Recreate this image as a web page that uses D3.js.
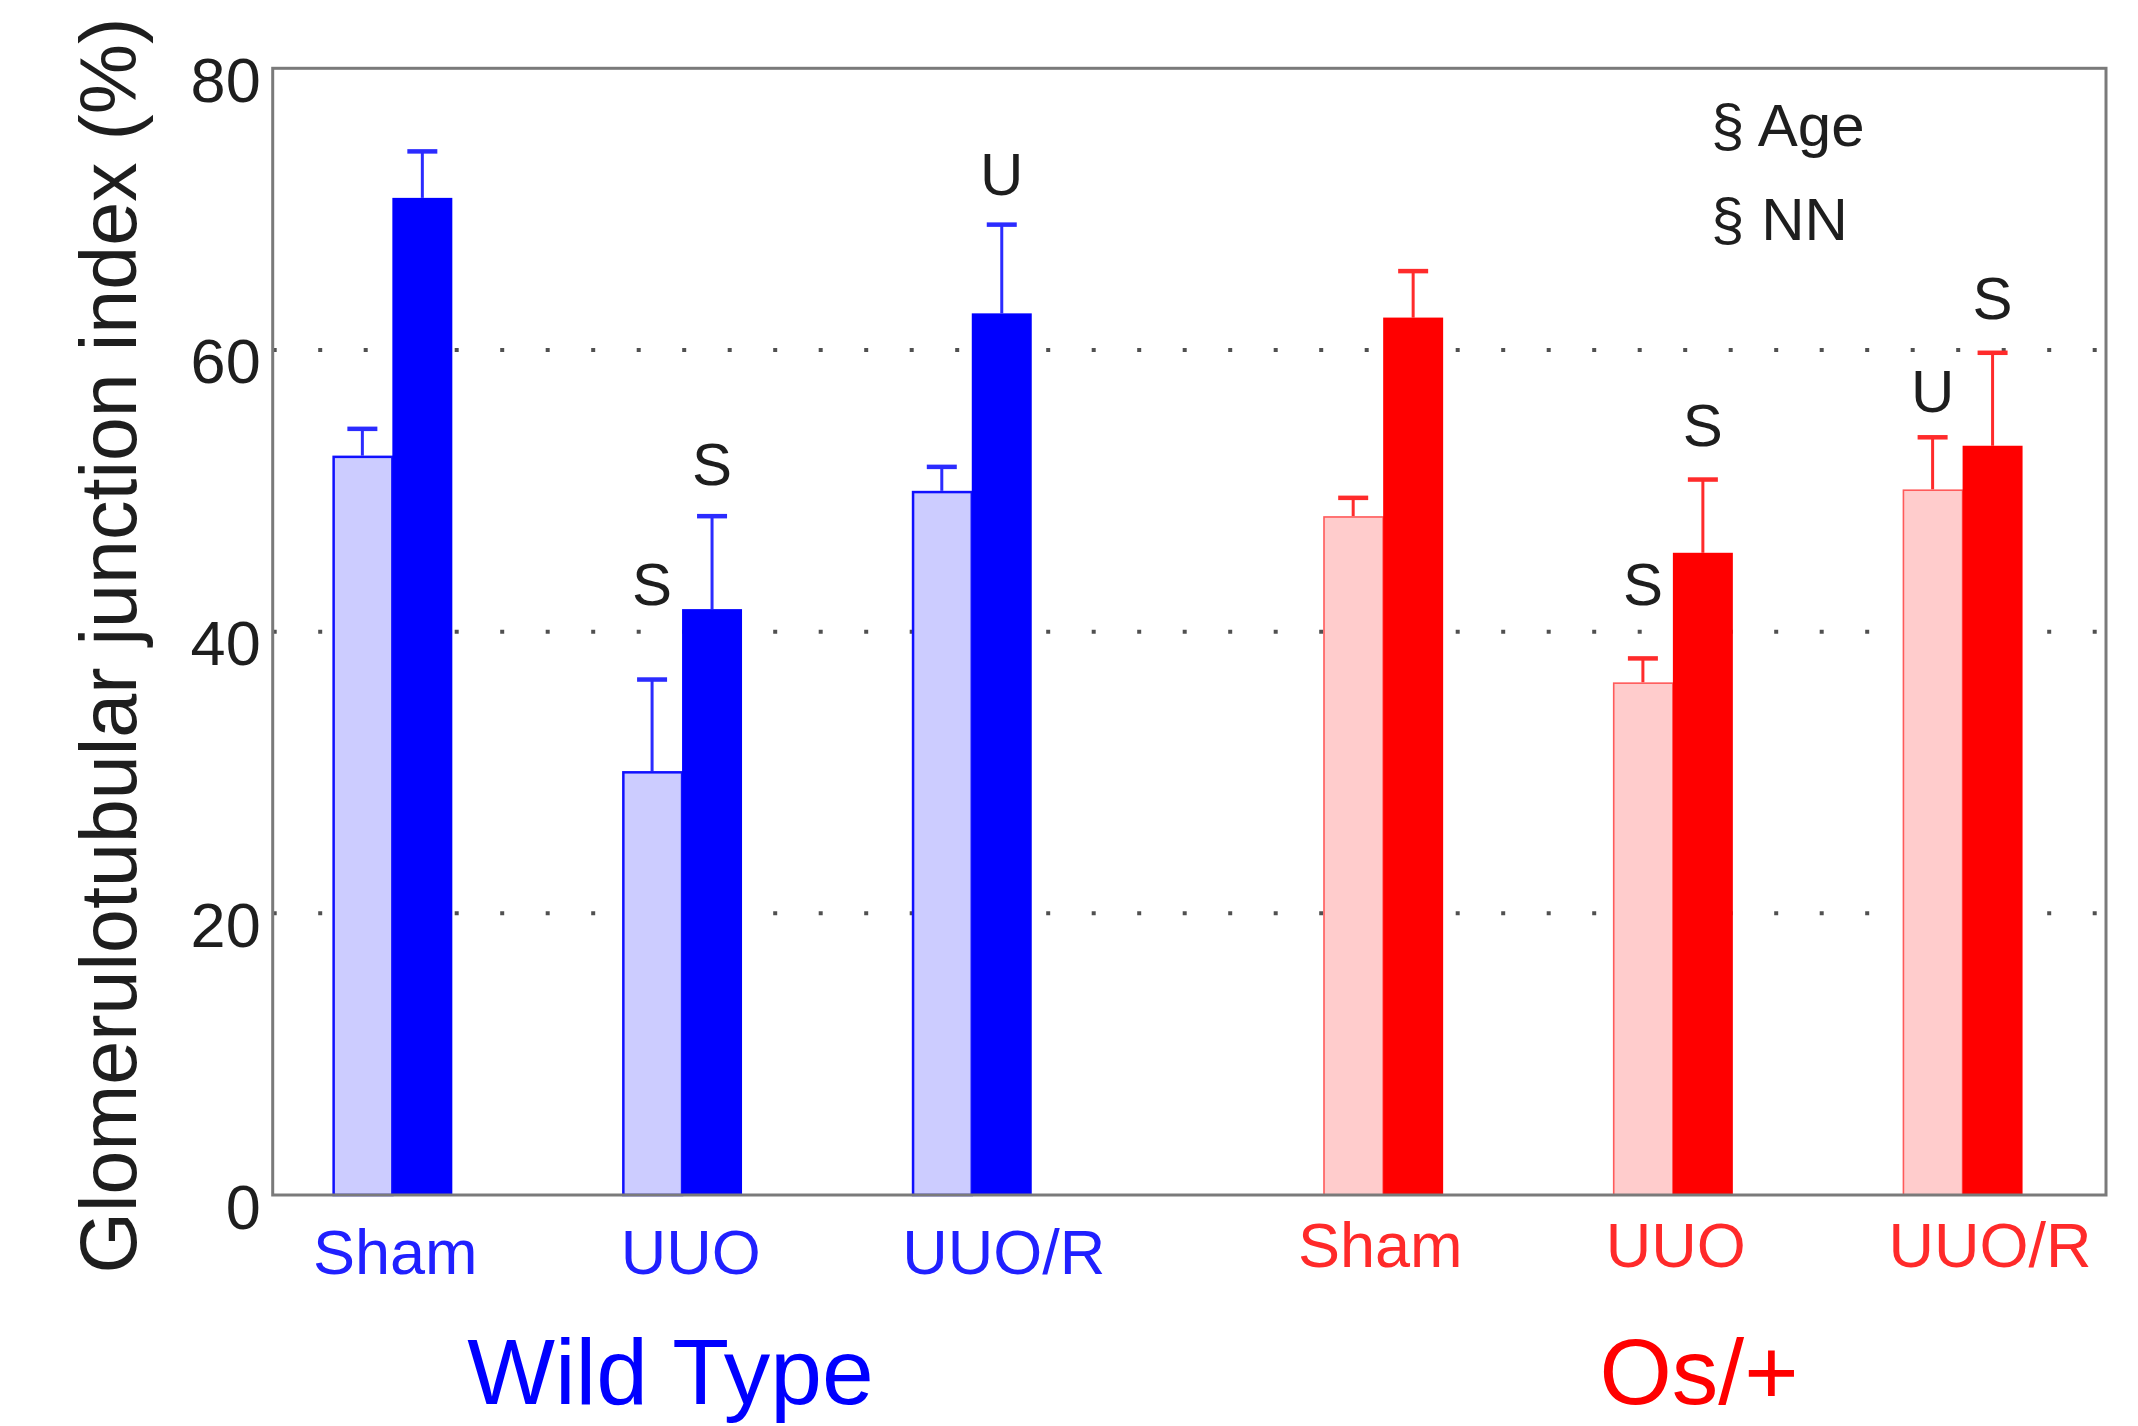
<!DOCTYPE html>
<html>
<head>
<meta charset="utf-8">
<script src="https://cdn.jsdelivr.net/npm/d3@7/dist/d3.min.js"></script>
<style>
  html, body { margin: 0; padding: 0; background: #ffffff; }
  svg { display: block; }
  text { font-family: "Liberation Sans", Arial, Helvetica, sans-serif; }
</style>
</head>
<body>
<svg id="chart" width="2138" height="1426"></svg>
<script>
// ---------------- data ----------------
const categories = ["Sham", "UUO", "UUO/R", "Sham", "UUO", "UUO/R"];
const categoryGroup = [0, 0, 0, 1, 1, 1];
const categoryPos = [1, 2, 3, 4.42, 5.42, 6.42];
const categoryLabelPos = [1.01, 2.03, 3.11, 4.41, 5.43, 6.515];
const groups = ["Wild Type", "Os/+"];
const groupLabelPos = [1.96, 5.51];

// light (first) bar of each pair
const lightValues = [52.5, 30.1, 50.0, 48.2, 36.4, 50.1];
const lightErrors = [1.9, 6.5, 1.7, 1.3, 1.7, 3.7];
// dark (second) bar of each pair
const darkValues = [70.8, 41.6, 62.6, 62.3, 45.6, 53.2];
const darkErrors = [3.3, 6.6, 6.3, 3.3, 5.2, 6.6];

const yTicks = [0, 20, 40, 60, 80];
const gridTicks = [20, 40, 60];

// significance marks: category index, which bar, text, value at text centre
const markCategory = [1, 1, 2, 4, 4, 5, 5];
const markBar = ["light", "dark", "dark", "light", "dark", "light", "dark"];
const markText = ["S", "S", "U", "S", "S", "U", "S"];
const markValue = [43.4, 51.9, 72.5, 43.4, 54.7, 57.1, 63.7];

const noteLines = ["§ Age", "§ NN"];
const noteValues = [74.5, 67.8];
const noteX = 5.552;

const yLabel = "Glomerulotubular junction index (%)";

// ---------------- layout ----------------
const W = 2138, H = 1426;
const plot = { left: 272.7, right: 2106, top: 68.3, bottom: 1195 };
const barW = 0.207;
const groupColors = [
  { light: "#ccccff", lightStroke: "#1010ff", lightStrokeW: 2.5, dark: "#0000ff", err: "#2b2bff", label: "#2020ff", group: "#0000ff" },
  { light: "#ffcccc", lightStroke: "#ff5a5a", lightStrokeW: 1.6, dark: "#ff0000", err: "#ff2b2b", label: "#ff2a2a", group: "#ff0000" }
];

const svg = d3.select("#chart");
svg.append("rect").attr("width", W).attr("height", H).attr("fill", "#ffffff");

const x = d3.scaleLinear().domain([0.587, 6.915]).range([plot.left, plot.right]);
const y = d3.scaleLinear().domain([0, 80]).range([plot.bottom, plot.top]);

// dotted grid
svg.append("g").selectAll("line").data(gridTicks).join("line")
  .attr("x1", plot.left).attr("x2", plot.right)
  .attr("y1", d => y(d)).attr("y2", d => y(d))
  .attr("stroke", "#505050").attr("stroke-width", 4)
  .attr("stroke-dasharray", "4 41.5");

// bars
const bars = categories.map((c, i) => ({ i, pos: categoryPos[i], g: categoryGroup[i] }));
const barG = svg.append("g");

// error bars (upper only)
function errBar(sel, xc, v, e, color) {
  sel.append("line").attr("x1", xc).attr("x2", xc).attr("y1", y(v)).attr("y2", y(v + e))
    .attr("stroke", color).attr("stroke-width", 3);
  sel.append("line").attr("x1", xc - 15).attr("x2", xc + 15).attr("y1", y(v + e)).attr("y2", y(v + e))
    .attr("stroke", color).attr("stroke-width", 4.5);
}

bars.forEach(b => {
  const col = groupColors[b.g];
  const lx0 = x(b.pos - barW), lx1 = x(b.pos);
  const dx0 = x(b.pos), dx1 = x(b.pos + barW);
  errBar(barG, (lx0 + lx1) / 2, lightValues[b.i], lightErrors[b.i], col.err);
  errBar(barG, (dx0 + dx1) / 2, darkValues[b.i], darkErrors[b.i], col.err);
  const sw = col.lightStrokeW;
  barG.append("rect")
    .attr("x", lx0 + sw / 2).attr("width", lx1 - lx0 - sw / 2)
    .attr("y", y(lightValues[b.i]) + sw / 2).attr("height", y(0) - y(lightValues[b.i]) - sw / 2)
    .attr("fill", col.light).attr("stroke", col.lightStroke).attr("stroke-width", sw);
  barG.append("rect")
    .attr("x", dx0).attr("width", dx1 - dx0)
    .attr("y", y(darkValues[b.i])).attr("height", y(0) - y(darkValues[b.i]))
    .attr("fill", col.dark);
});

// frame
svg.append("rect")
  .attr("x", plot.left).attr("y", plot.top)
  .attr("width", plot.right - plot.left).attr("height", plot.bottom - plot.top)
  .attr("fill", "none").attr("stroke", "#7a7a7a").attr("stroke-width", 3);

// y axis tick labels (via d3 axis, no tick marks, no domain)
const yAxis = d3.axisLeft(y).tickValues(yTicks).tickSize(0).tickPadding(0).tickFormat(d3.format("d"));
const yAxisG = svg.append("g").attr("transform", `translate(${plot.left - 12},0)`).call(yAxis);
yAxisG.select(".domain").remove();
yAxisG.selectAll("text")
  .attr("font-size", 63).attr("fill", "#1e1e1e")
  .attr("dy", null).attr("dominant-baseline", "alphabetic")
  .attr("y", 33).attr("x", 0).attr("text-anchor", "end")
  .style("font-family", "'Liberation Sans', Arial, sans-serif");

// category labels
svg.append("g").selectAll("text").data(categories).join("text")
  .attr("x", (d, i) => x(categoryLabelPos[i]))
  .attr("y", (d, i) => categoryGroup[i] === 0 ? 1274 : 1267)
  .attr("text-anchor", "middle")
  .attr("font-size", 63)
  .attr("fill", (d, i) => groupColors[categoryGroup[i]].label)
  .text(d => d);

// group labels
svg.append("g").selectAll("text").data(groups).join("text")
  .attr("x", (d, i) => x(groupLabelPos[i]))
  .attr("y", 1404)
  .attr("text-anchor", "middle")
  .attr("font-size", 93)
  .attr("fill", (d, i) => groupColors[i].group)
  .text(d => d);

// significance marks
svg.append("g").selectAll("text").data(markText).join("text")
  .attr("x", (d, i) => {
    const p = categoryPos[markCategory[i]];
    return markBar[i] === "light" ? x(p - barW / 2) : x(p + barW / 2);
  })
  .attr("y", (d, i) => y(markValue[i]) + 21)
  .attr("text-anchor", "middle")
  .attr("font-size", 60)
  .attr("fill", "#1e1e1e")
  .text(d => d);

// notes
svg.append("g").selectAll("text").data(noteLines).join("text")
  .attr("x", x(noteX))
  .attr("y", (d, i) => y(noteValues[i]))
  .attr("font-size", 60)
  .attr("fill", "#1e1e1e")
  .text(d => d);

// y label
svg.append("text")
  .attr("transform", `translate(136, ${(16 + 1275) / 2}) rotate(-90)`)
  .attr("text-anchor", "middle")
  .attr("font-size", 79)
  .attr("fill", "#1e1e1e")
  .text(yLabel);
</script>
</body>
</html>
